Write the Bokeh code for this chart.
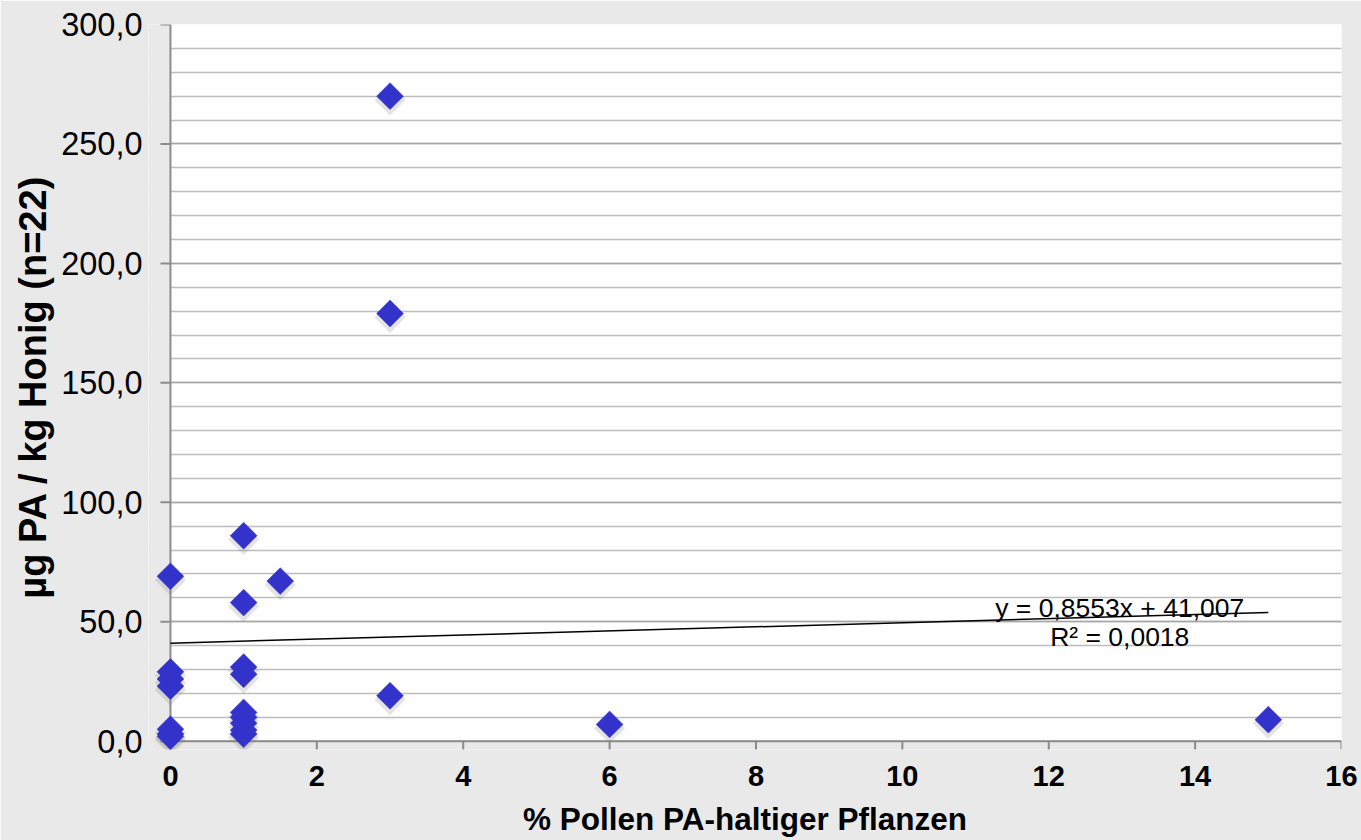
import numpy as np
from bokeh.plotting import figure
from bokeh.models import (ColumnDataSource, Range1d, SingleIntervalTicker,
                          CustomJSTickFormatter, Label)
from bokeh.embed import file_html
from bokeh.resources import INLINE

# Data
pollen_pct = [3, 3, 3, 6, 15,
              0, 0, 0, 0, 0, 0, 0,
              1, 1, 1, 1, 1, 1, 1, 1, 1,
              1.5]
pa_ug_kg = [270, 179, 19, 7, 9,
            69, 29, 26, 23, 5, 3, 2,
            86, 58, 31, 28, 12, 10, 7.5, 4.6, 3,
            67]

trend_slope = 0.8553
trend_intercept = 41.007
trend_x = [0, 15]
trend_label_1 = "y = 0,8553x + 41,007"
trend_label_2 = "R² = 0,0018"

x_label = "% Pollen PA-haltiger Pflanzen"
y_label = "µg PA / kg Honig (n=22)"

X_MIN, X_MAX, X_STEP = 0, 16, 2
Y_MIN, Y_MAX, Y_STEP = 0, 300, 50
x_ticks = list(range(X_MIN, X_MAX + 1, X_STEP))
y_ticks = list(range(Y_MIN, Y_MAX + 1, Y_STEP))
# small margin so markers on the axes are not clipped (masked with page colour)
X_PAD, Y_PAD = 0.3, 3.5

FONT = "Liberation Sans"
BG = "#e9e9e9"
AXIS = "#8c8c8c"

p = figure(width=1361, height=840, output_backend="svg", toolbar_location=None,
           x_range=Range1d(X_MIN - X_PAD, X_MAX),
           y_range=Range1d(Y_MIN - Y_PAD, Y_MAX),
           min_border_left=148, min_border_right=20, min_border_top=24,
           min_border_bottom=91)
p.background_fill_color = "white"
p.border_fill_color = BG
p.outline_line_color = None

# axes (labels only; lines and ticks drawn at the data origin below)
p.xaxis.ticker = SingleIntervalTicker(interval=X_STEP, num_minor_ticks=0)
p.yaxis.ticker = SingleIntervalTicker(interval=Y_STEP, num_minor_ticks=5)
p.yaxis.formatter = CustomJSTickFormatter(code="return tick.toFixed(1).replace('.', ',');")
p.xaxis.bounds = (X_MIN, X_MAX)
p.yaxis.bounds = (Y_MIN, Y_MAX)

for ax in (p.xaxis, p.yaxis):
    ax.axis_line_color = None
    ax.major_tick_line_color = None
    ax.major_tick_out = 0
    ax.major_tick_in = 0
    ax.minor_tick_line_color = None
    ax.major_label_text_font = FONT
    ax.major_label_text_color = "black"
    ax.axis_label_text_font = FONT
    ax.axis_label_text_font_style = "bold"
    ax.axis_label_text_color = "black"

p.yaxis.major_label_text_font_size = "32.5px"
p.yaxis.major_label_standoff = 2
p.yaxis.axis_label = y_label
p.yaxis.axis_label_text_font_size = "38px"
p.yaxis.axis_label_standoff = 4

p.xaxis.major_label_text_font_size = "29px"
p.xaxis.major_label_text_font_style = "bold"
p.xaxis.major_label_standoff = 16
p.xaxis.axis_label = x_label
p.xaxis.axis_label_text_font_size = "31.5px"
p.xaxis.axis_label_standoff = 12

# grid
p.xgrid.grid_line_color = None
p.ygrid.grid_line_color = "#a6a6a6"
p.ygrid.grid_line_width = 1.5
p.ygrid.minor_grid_line_color = "#bdbdbd"
p.ygrid.minor_grid_line_width = 1.5

# mask the padding strips with the page colour (extended past the frame edge)
p.quad(left=[X_MIN - 3 * X_PAD, X_MIN - 3 * X_PAD], right=[X_MIN, X_MAX + 1],
       bottom=[Y_MIN - 3 * Y_PAD, Y_MIN - 3 * Y_PAD], top=[Y_MAX + 10, Y_MIN],
       fill_color=BG, fill_alpha=1.0, line_color=None)

# axis lines and outward ticks at the origin
p.segment(x0=[X_MIN, X_MIN], y0=[Y_MIN, Y_MIN], x1=[X_MIN, X_MAX], y1=[Y_MAX, Y_MIN],
          line_color=AXIS, line_width=2)
p.ray(x=[X_MIN] * len(y_ticks), y=y_ticks, length=10, length_units="screen",
      angle=np.pi, line_color=AXIS, line_width=2)
p.ray(x=x_ticks, y=[Y_MIN] * len(x_ticks), length=9, length_units="screen",
      angle=-np.pi / 2, line_color=AXIS, line_width=2)

# points with a soft shadow
src = ColumnDataSource(dict(x=pollen_pct, y=pa_ug_kg,
                            ys=[v - 1.6 for v in pa_ug_kg]))
p.scatter("x", "ys", source=src, marker="square", size=22, angle=np.pi / 4,
          fill_color="#7a7a7a", fill_alpha=0.2, line_color=None)
p.scatter("x", "y", source=src, marker="square", size=19, angle=np.pi / 4,
          fill_color="#3333cc", line_color="#3333cc", line_width=0.5)

# trend line
trend_y = [trend_slope * v + trend_intercept for v in trend_x]
p.line(trend_x, trend_y, line_color="black", line_width=1.5)

lx = 12.97
ly = trend_slope * lx + trend_intercept
p.add_layout(Label(x=lx, y=ly, y_offset=9, text=trend_label_1, text_font=FONT,
                   text_font_size="26.5px", text_align="center",
                   text_baseline="alphabetic", text_color="black"))
p.add_layout(Label(x=lx, y=ly, y_offset=-20, text=trend_label_2, text_font=FONT,
                   text_font_size="26.5px", text_align="center",
                   text_baseline="alphabetic", text_color="black"))

open("out.html", "w").write(file_html(p, INLINE))
